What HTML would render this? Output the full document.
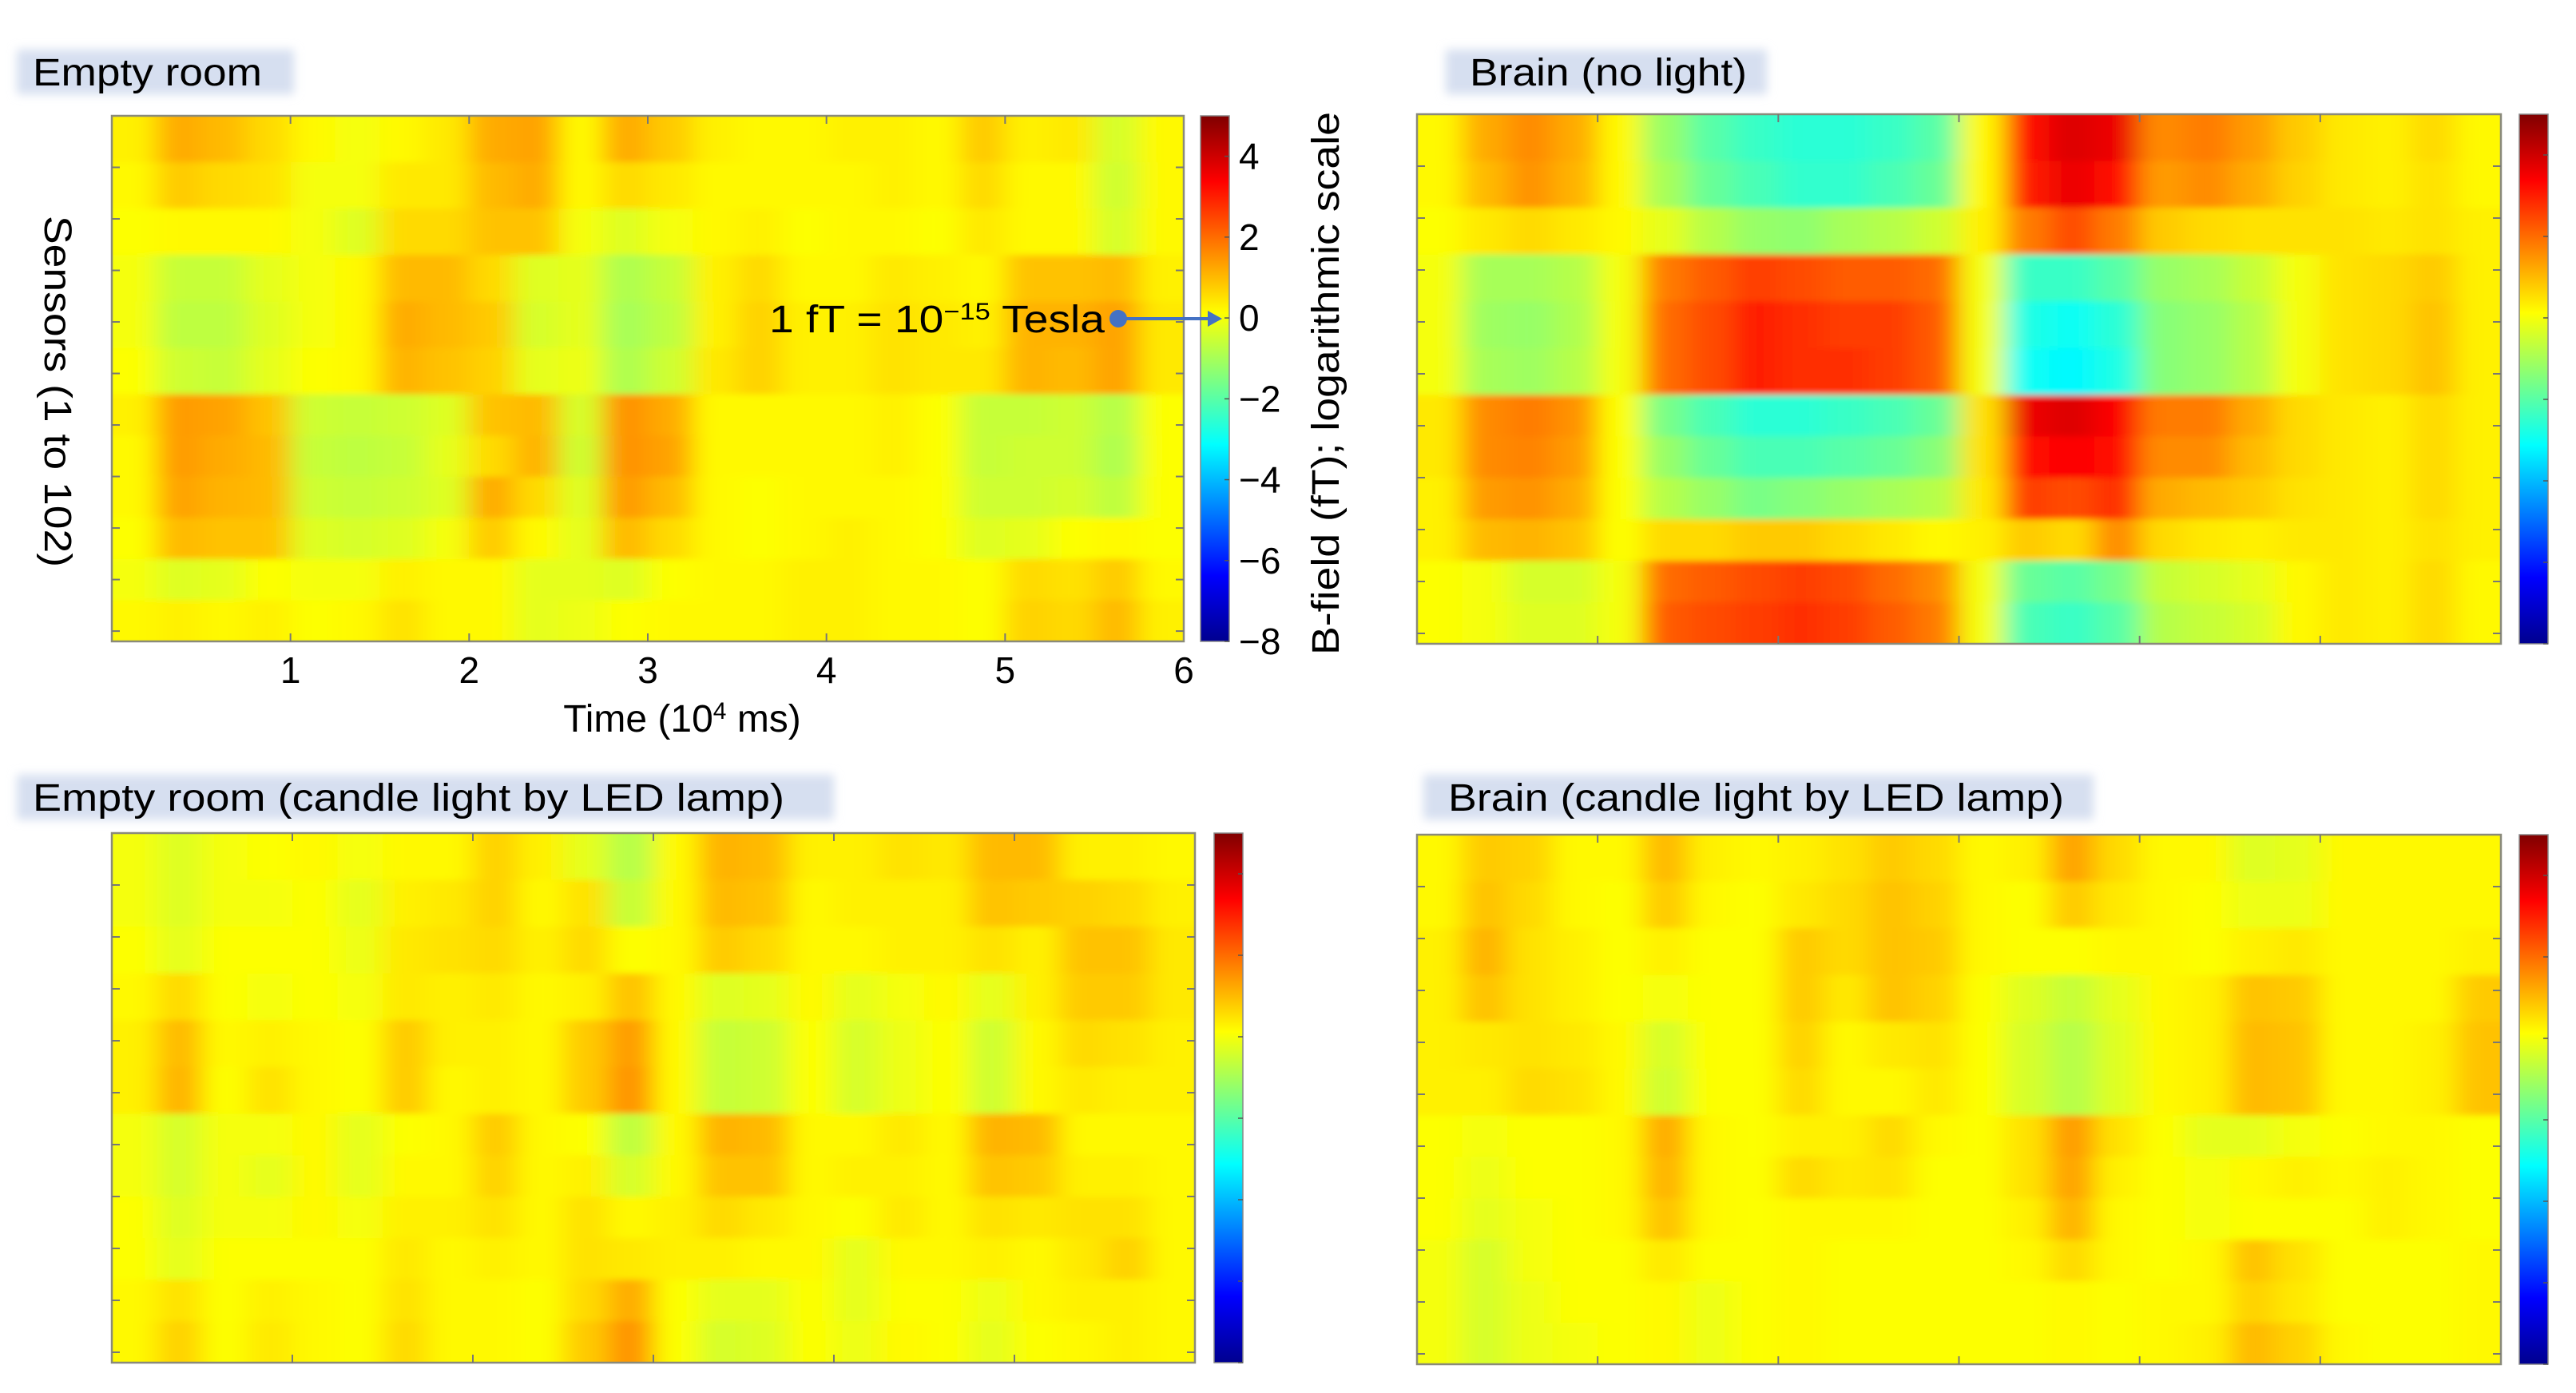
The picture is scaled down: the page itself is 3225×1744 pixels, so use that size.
<!DOCTYPE html>
<html><head><meta charset="utf-8">
<style>
html,body{margin:0;padding:0;background:#fff;}
svg{display:block;font-family:"Liberation Sans",Arial,sans-serif;}
</style></head>
<body>
<svg id="fig" width="3225" height="1744" viewBox="0 0 3225 1744" xmlns="http://www.w3.org/2000/svg">
<defs>
<linearGradient id="jet" x1="0" y1="1" x2="0" y2="0">
<stop offset="0" stop-color="#00008f"/>
<stop offset="0.125" stop-color="#0000ff"/>
<stop offset="0.375" stop-color="#00ffff"/>
<stop offset="0.625" stop-color="#ffff00"/>
<stop offset="0.875" stop-color="#ff0000"/>
<stop offset="1" stop-color="#800000"/>
</linearGradient>
<filter id="soft" x="-5%" y="-5%" width="110%" height="110%"><feGaussianBlur stdDeviation="16 4"/></filter>
<filter id="boxblur" x="-10%" y="-30%" width="120%" height="160%"><feGaussianBlur stdDeviation="6"/></filter>
</defs>
<g id="layer"></g>
</svg>
<script>
const timeTicks = [1, 2, 3, 4, 5, 6];
const colorbarTicks = [4, 2, 0, -2, -4, -6, -8];
const sensorTicks = [10, 20, 30, 40, 50, 60, 70, 80, 90, 100];
const vMin = -8, vMax = 5, tMax = 6, nSensors = 102;

const emptyRoomValues = [
[0.3,1.2,1.0,0.6,0.2,0.0,0.2,0.4,1.2,1.3,0.2,1.2,0.8,0.3,0.2,0.2,0.3,0.3,0.2,0.8,0.3,0.4,-0.4,0.2],
[0.2,0.8,0.6,0.5,0.0,0.0,0.4,0.4,1.0,1.2,0.2,0.6,0.4,0.2,0.2,0.2,0.2,0.3,0.2,0.6,0.2,0.2,-0.5,0.2],
[0.1,0.2,0.2,0.2,0.0,-0.3,0.6,0.6,0.9,0.9,0.0,-0.3,0.0,0.2,0.3,0.1,0.2,0.2,0.1,0.4,0.2,0.2,-0.4,0.2],
[0.0,-0.6,-0.6,-0.2,0.0,0.2,1.0,1.0,0.6,-0.3,-0.2,-0.9,-0.6,0.3,0.6,0.2,0.2,0.4,0.3,0.2,0.9,0.9,1.0,0.3],
[0.0,-0.7,-0.7,-0.3,0.0,0.2,1.2,1.0,0.8,-0.4,-0.2,-1.0,-0.7,0.3,0.7,0.3,0.3,0.5,0.4,0.3,1.1,1.1,1.3,0.4],
[0.1,-0.5,-0.6,-0.2,0.1,0.2,1.1,0.9,0.7,-0.2,-0.1,-0.9,-0.5,0.4,0.7,0.3,0.3,0.5,0.4,0.4,1.1,1.0,1.3,0.4],
[0.3,1.4,1.3,0.9,-0.5,-0.6,-0.5,-0.3,0.9,1.0,-0.4,1.5,1.2,0.2,0.2,0.2,0.2,0.3,0.1,-0.6,-0.6,-0.5,-0.8,0.1],
[0.2,1.4,1.2,1.0,-0.6,-0.7,-0.6,-0.2,0.6,1.1,-0.5,1.5,1.3,0.2,0.2,0.2,0.2,0.3,0.1,-0.6,-0.5,-0.5,-0.9,0.1],
[0.2,1.3,1.1,1.0,-0.5,-0.6,-0.5,-0.3,1.2,0.6,-0.3,1.4,1.0,0.2,0.1,0.2,0.2,0.2,0.1,-0.5,-0.5,-0.4,-0.7,0.1],
[0.1,1.0,0.9,0.9,-0.3,-0.4,-0.3,0.0,0.8,0.2,-0.2,1.0,0.6,0.2,0.1,0.2,0.3,0.2,0.1,-0.3,-0.2,0.1,0.2,0.1],
[0.0,-0.3,-0.2,0.1,0.0,0.0,0.3,0.2,0.2,-0.2,-0.2,-0.3,0.1,0.2,0.2,0.3,0.3,0.2,0.2,0.1,0.6,0.5,0.8,0.2],
[0.2,0.3,0.2,0.3,0.1,0.2,0.5,0.2,0.2,-0.2,-0.1,0.1,0.2,0.2,0.2,0.3,0.3,0.2,0.2,0.1,0.7,0.6,1.0,0.3]
];
const brainNoLightValues = [
[0.2,1.2,1.6,1.2,0.2,-1.2,-2.0,-2.4,-2.6,-2.6,-2.4,-2.0,0.2,3.2,3.8,3.6,1.6,1.8,1.4,0.8,0.4,0.3,0.6,0.2],
[0.2,1.0,1.5,1.1,0.2,-1.0,-1.8,-2.2,-2.5,-2.5,-2.2,-1.8,0.2,3.0,3.6,3.2,1.4,1.6,1.2,0.7,0.4,0.3,0.5,0.2],
[0.1,0.4,0.6,0.4,0.2,-0.2,-0.8,-1.2,-1.3,-1.0,-0.8,-0.5,0.3,1.8,2.4,1.8,0.8,0.6,0.5,0.5,0.5,0.4,0.5,0.3],
[0.0,-1.0,-1.0,-0.8,0.0,1.8,2.2,2.6,2.4,2.2,2.2,2.0,0.0,-2.4,-2.4,-2.0,-1.2,-1.0,-0.6,0.0,0.5,0.6,0.8,0.3],
[0.0,-1.1,-1.2,-0.9,0.0,2.0,2.4,3.0,2.8,2.6,2.6,2.2,0.0,-2.8,-3.0,-2.6,-1.4,-1.2,-0.8,0.0,0.5,0.6,0.9,0.3],
[0.0,-1.0,-1.1,-0.8,0.0,2.0,2.4,3.0,2.8,2.8,2.6,2.2,0.0,-3.0,-3.2,-2.8,-1.4,-1.2,-0.8,0.0,0.5,0.6,0.9,0.3],
[0.4,1.6,1.8,1.5,0.1,-1.6,-2.2,-2.6,-2.6,-2.4,-2.2,-1.8,0.5,3.6,3.8,3.4,1.8,1.8,1.2,0.6,0.4,0.3,0.6,0.3],
[0.4,1.6,1.7,1.4,0.1,-1.2,-1.8,-2.2,-2.2,-2.0,-1.8,-1.4,0.5,3.2,3.4,3.2,1.6,1.6,1.0,0.6,0.4,0.3,0.6,0.3],
[0.3,1.4,1.5,1.2,0.1,-0.8,-1.2,-1.6,-1.4,-1.2,-1.0,-0.8,0.4,2.6,2.4,2.8,1.2,1.0,0.8,0.5,0.4,0.3,0.6,0.3],
[0.3,1.0,1.1,0.9,0.1,0.6,0.6,0.8,0.8,0.6,0.4,0.2,0.3,0.8,0.6,1.6,0.6,0.4,0.3,0.4,0.4,0.3,0.5,0.3],
[0.1,0.0,-0.4,-0.4,0.0,2.0,2.2,2.4,2.6,2.4,2.0,1.6,0.0,-1.8,-2.0,-1.6,-0.6,-0.4,-0.2,0.2,0.4,0.3,0.6,0.2],
[0.1,0.0,-0.3,-0.3,0.0,2.2,2.4,2.6,2.8,2.6,2.2,1.8,0.0,-2.2,-2.4,-2.0,-0.8,-0.6,-0.4,0.2,0.4,0.3,0.6,0.2]
];
const emptyRoomCandleValues = [
[0.0,-0.3,0.0,0.1,0.2,0.0,0.2,0.2,0.7,0.3,-0.2,-0.8,0.2,1.1,1.0,0.3,0.3,0.5,0.4,1.0,1.0,0.3,0.3,0.2],
[0.0,-0.3,0.0,0.0,0.1,-0.2,0.3,0.4,0.7,0.2,0.5,-0.6,0.2,1.0,0.9,0.2,0.3,0.3,0.3,0.9,0.8,0.7,0.6,0.3],
[0.1,-0.2,0.1,0.1,0.1,-0.1,0.4,0.5,0.6,0.3,0.6,0.1,0.2,0.8,0.6,0.2,0.2,0.3,0.3,0.5,0.3,0.9,0.9,0.4],
[0.2,0.6,0.1,0.0,0.1,0.0,0.4,0.3,0.4,0.2,0.3,0.9,0.2,-0.3,-0.2,0.2,-0.2,0.0,0.2,-0.2,0.3,0.8,0.8,0.4],
[0.3,1.0,0.2,0.3,0.2,0.1,0.8,0.3,0.3,0.2,0.8,1.4,0.2,-0.6,-0.5,0.1,-0.4,-0.1,0.1,-0.5,0.2,0.6,0.5,0.3],
[0.3,1.1,0.1,0.5,0.2,0.1,0.8,0.2,0.3,0.2,0.8,1.5,0.2,-0.6,-0.5,0.1,-0.4,-0.1,0.1,-0.5,0.2,0.4,0.3,0.3],
[0.0,-0.4,0.0,0.0,0.2,-0.2,0.1,0.2,0.8,0.2,0.1,-0.7,0.2,1.1,1.0,0.2,0.2,0.4,0.2,1.1,1.0,0.2,0.2,0.2],
[0.0,-0.4,0.0,-0.2,0.2,-0.2,0.2,0.2,0.7,0.2,0.3,-0.4,0.2,0.9,0.9,0.2,0.3,0.3,0.2,0.9,0.8,0.3,0.3,0.2],
[0.1,-0.3,0.0,0.0,0.2,0.0,0.3,0.3,0.5,0.2,0.5,0.2,0.3,0.6,0.4,0.2,0.1,0.4,0.2,0.5,0.4,0.5,0.5,0.2],
[0.1,-0.2,0.1,0.1,0.1,0.1,0.4,0.2,0.3,0.2,0.5,0.4,0.3,0.3,0.2,0.2,-0.2,0.2,0.2,0.3,0.2,0.4,0.7,0.2],
[0.2,0.5,0.1,0.3,0.2,0.1,0.5,0.2,0.2,0.1,0.6,1.2,0.1,-0.2,-0.2,0.1,-0.2,0.1,0.1,-0.1,0.2,0.3,0.3,0.2],
[0.2,0.7,0.1,0.4,0.2,0.1,0.6,0.2,0.2,0.1,0.8,1.5,0.1,-0.4,-0.3,0.1,-0.1,0.2,0.1,-0.2,0.1,0.2,0.3,0.2]
];
const brainCandleValues = [
[0.2,0.8,0.7,0.2,0.2,1.0,0.3,0.2,0.3,0.5,0.8,0.6,0.2,0.3,1.3,0.6,0.2,0.2,-0.3,-0.2,0.2,0.2,0.2,0.2],
[0.2,0.9,0.6,0.2,0.1,0.8,0.2,0.1,0.4,0.6,0.9,0.7,0.2,0.1,0.8,0.4,0.2,0.1,-0.1,-0.1,0.2,0.2,0.2,0.2],
[0.3,1.1,0.5,0.3,0.1,0.3,0.1,0.1,0.8,0.6,0.9,0.8,0.2,0.1,0.1,0.2,0.2,0.1,0.3,0.4,0.2,0.2,0.2,0.3],
[0.3,0.9,0.5,0.3,0.1,0.0,0.1,0.1,0.8,0.4,0.9,0.7,0.1,-0.3,-0.6,-0.2,0.2,0.3,0.9,0.8,0.2,0.2,0.2,0.8],
[0.3,0.4,0.5,0.4,0.2,-0.4,0.1,0.1,0.7,0.2,0.4,0.5,0.1,-0.4,-0.8,-0.3,0.2,0.3,1.0,0.9,0.2,0.2,0.3,0.9],
[0.3,0.3,0.6,0.5,0.2,-0.5,0.1,0.1,0.6,0.2,0.2,0.4,0.1,-0.4,-0.8,-0.3,0.2,0.3,1.0,0.9,0.2,0.2,0.3,0.9],
[0.1,0.0,0.1,0.1,0.2,1.2,0.2,0.1,0.3,0.3,0.6,0.2,0.1,0.5,1.4,0.5,0.1,-0.2,-0.2,0.0,0.1,0.2,0.2,0.1],
[0.1,-0.1,0.1,0.1,0.2,1.1,0.2,0.1,0.6,0.4,0.5,0.1,0.1,0.5,1.3,0.3,0.1,0.0,0.2,0.3,0.2,0.3,0.2,0.1],
[0.1,-0.2,0.0,0.1,0.2,0.9,0.2,0.1,0.2,0.2,0.2,0.1,0.1,0.3,1.1,0.2,0.1,0.0,0.1,0.1,0.1,0.3,0.2,0.1],
[0.0,-0.4,0.0,0.1,0.1,0.4,0.1,0.1,0.2,0.1,0.1,0.1,0.1,0.2,0.6,0.2,0.1,0.2,0.9,0.5,0.1,0.1,0.1,0.2],
[0.0,-0.4,-0.1,0.1,0.1,0.2,-0.1,0.1,0.2,0.1,0.1,0.1,0.1,0.1,0.2,0.1,0.2,0.2,0.7,0.4,0.1,0.1,0.1,0.2],
[0.0,-0.4,-0.1,0.0,0.1,0.2,-0.1,0.1,0.2,0.1,0.1,0.1,0.1,0.1,0.2,0.1,0.2,0.3,1.0,0.7,0.2,0.1,0.1,0.2]
];

const NS = "http://www.w3.org/2000/svg";
const layer = document.getElementById('layer');
function mk(tag, attrs, parent) {
  const e = document.createElementNS(NS, tag);
  for (const k in attrs) e.setAttribute(k, attrs[k]);
  (parent || layer).appendChild(e);
  return e;
}
function clamp(v) { return Math.max(0, Math.min(1, v)); }
function jet(v) {
  const t = (v - vMin) / (vMax - vMin);
  const r = clamp(1.5 - Math.abs(4 * t - 3));
  const g = clamp(1.5 - Math.abs(4 * t - 2));
  const b = clamp(1.5 - Math.abs(4 * t - 1));
  return `rgb(${Math.round(r * 255)},${Math.round(g * 255)},${Math.round(b * 255)})`;
}

const panels = [
  {key:'empty-room', values: emptyRoomValues, x:140, y:145, w:1342, h:658, cbx:1503, cbw:36, title:'Empty room', tbx:21, tbw:347, tby:62, ttx:41, ttw:287, full:true},
  {key:'brain-no-light', values: brainNoLightValues, x:1774, y:143, w:1357, h:663, cbx:3154, cbw:36, title:'Brain (no light)', tbx:1810, tbw:402, tby:62, ttx:1840, ttw:347},
  {key:'empty-room-candle', values: emptyRoomCandleValues, x:140, y:1043, w:1356, h:663, cbx:1520, cbw:36, title:'Empty room (candle light by LED lamp)', tbx:21, tbw:1023, tby:970, ttx:41, ttw:941},
  {key:'brain-candle', values: brainCandleValues, x:1774, y:1045, w:1357, h:663, cbx:3154, cbw:36, title:'Brain (candle light by LED lamp)', tbx:1782, tbw:839, tby:970, ttx:1813, ttw:771}
];
const splitFrac = 0.53;

panels.forEach((p, pi) => {
  const g = mk('g', {});
  
  
  const tb = mk('rect', {x:p.tbx, y:p.tby, width:p.tbw, height:56, fill:'#d6dff0', filter:'url(#boxblur)'}, g);
  
  
  const tt = mk('text', {x:p.ttx, y:p.tby + 45, 'font-size':48, fill:'#000', textLength:p.ttw, lengthAdjust:'spacingAndGlyphs'}, g);
  tt.textContent = p.title;
  
  

  const xs = t => p.x + t / tMax * p.w;
  const ys = s => p.y + s / nSensors * p.h;
  const rows = p.values.length, cols = p.values[0].length;
  const half = rows / 2;
  const rowEdge = r => r <= half ? p.y + r / half * splitFrac * p.h
                                 : p.y + splitFrac * p.h + (r - half) / half * (1 - splitFrac) * p.h;
  const clipId = 'clip' + pi;
  const cp = mk('clipPath', {id: clipId}, g);
  mk('rect', {x:p.x, y:p.y, width:p.w, height:p.h}, cp);
  const hm = mk('g', {'clip-path':`url(#${clipId})`}, g);
  
  
  const blurG = mk('g', {filter:'url(#soft)'}, hm);
  mk('rect', {x:p.x - 40, y:p.y - 40, width:p.w + 80, height:p.h + 80, fill:jet(0.2)}, blurG);
  const cw = p.w / cols;
  for (let r = 0; r < rows; r++) {
    for (let c = 0; c < cols; c++) {
      const x0 = p.x + c * cw - (c === 0 ? 40 : 0);
      const x1 = p.x + (c + 1) * cw + (c === cols - 1 ? 40 : 0);
      const y0 = rowEdge(r) - (r === 0 ? 40 : 0);
      const y1 = rowEdge(r + 1) + (r === rows - 1 ? 40 : 0);
      const cell = mk('rect', {x:x0, y:y0, width:x1 - x0 + 0.5, height:y1 - y0 + 0.5, fill:jet(p.values[r][c])}, blurG);
      
      
    }
  }
  const fr = mk('rect', {x:p.x, y:p.y, width:p.w, height:p.h, fill:'none', stroke:'#8a8a7a', 'stroke-width':2.5}, g);
  
  
  timeTicks.forEach(t => {
    if (t >= tMax) return;
    mk('line', {x1:xs(t), x2:xs(t), y1:p.y + p.h, y2:p.y + p.h - 10, stroke:'#777', 'stroke-width':2}, g);
    mk('line', {x1:xs(t), x2:xs(t), y1:p.y, y2:p.y + 10, stroke:'#777', 'stroke-width':2}, g);
  });
  sensorTicks.forEach(s => {
    mk('line', {x1:p.x, x2:p.x + 10, y1:ys(s), y2:ys(s), stroke:'#777', 'stroke-width':2}, g);
    mk('line', {x1:p.x + p.w, x2:p.x + p.w - 10, y1:ys(s), y2:ys(s), stroke:'#777', 'stroke-width':2}, g);
  });
  const cb = mk('rect', {x:p.cbx, y:p.y, width:p.cbw, height:p.h, fill:'url(#jet)', stroke:'#888', 'stroke-width':1.5}, g);
  
  
  const cby = v => p.y + (vMax - v) / (vMax - vMin) * p.h;
  colorbarTicks.forEach(v => {
    mk('line', {x1:p.cbx + p.cbw, x2:p.cbx + p.cbw - 6, y1:cby(v), y2:cby(v), stroke:'#555', 'stroke-width':1.5}, g);
    if (p.full) {
      const lb = mk('text', {x:p.cbx + p.cbw + 12, y:cby(v) + 16, 'font-size':46, fill:'#000'}, g);
      lb.textContent = v < 0 ? '\u2212' + Math.abs(v) : String(v);
      
      
    }
  });
  if (p.full) {
    timeTicks.forEach(t => {
      const lb = mk('text', {x:xs(t), y:p.y + p.h + 52, 'font-size':46, 'text-anchor':'middle', fill:'#000'}, g);
      lb.textContent = String(t);
      
      
    });
  }
});

const xt = mk('text', {x:854, y:916, 'font-size':48, 'text-anchor':'middle', fill:'#000'});
xt.innerHTML = 'Time (10<tspan baseline-shift="super" font-size="30">4</tspan> ms)';



const yt = mk('text', {x:0, y:0, 'font-size':48, 'text-anchor':'middle', fill:'#000', transform:'translate(56,490) rotate(90)', textLength:440, lengthAdjust:'spacingAndGlyphs'});
yt.textContent = 'Sensors (1 to 102)';



const ct = mk('text', {x:0, y:0, 'font-size':48, 'text-anchor':'middle', fill:'#000', transform:'translate(1676,480) rotate(-90)', textLength:680, lengthAdjust:'spacingAndGlyphs'});
ct.textContent = 'B-field (fT); logarithmic scale';



const an = mk('text', {x:963, y:416, 'font-size':48, fill:'#000', textLength:420, lengthAdjust:'spacingAndGlyphs'});
an.innerHTML = '1 fT = 10<tspan baseline-shift="super" font-size="30">\u221215</tspan> Tesla';



const dot = mk('circle', {cx:1400, cy:399, r:11, fill:'#4472c4'});


const ar = mk('line', {x1:1400, y1:399, x2:1518, y2:399, stroke:'#4472c4', 'stroke-width':4});


const ah = mk('path', {d:'M1530 399 L1512 389 L1512 409 Z', fill:'#4472c4'});


</script>
</body></html>
